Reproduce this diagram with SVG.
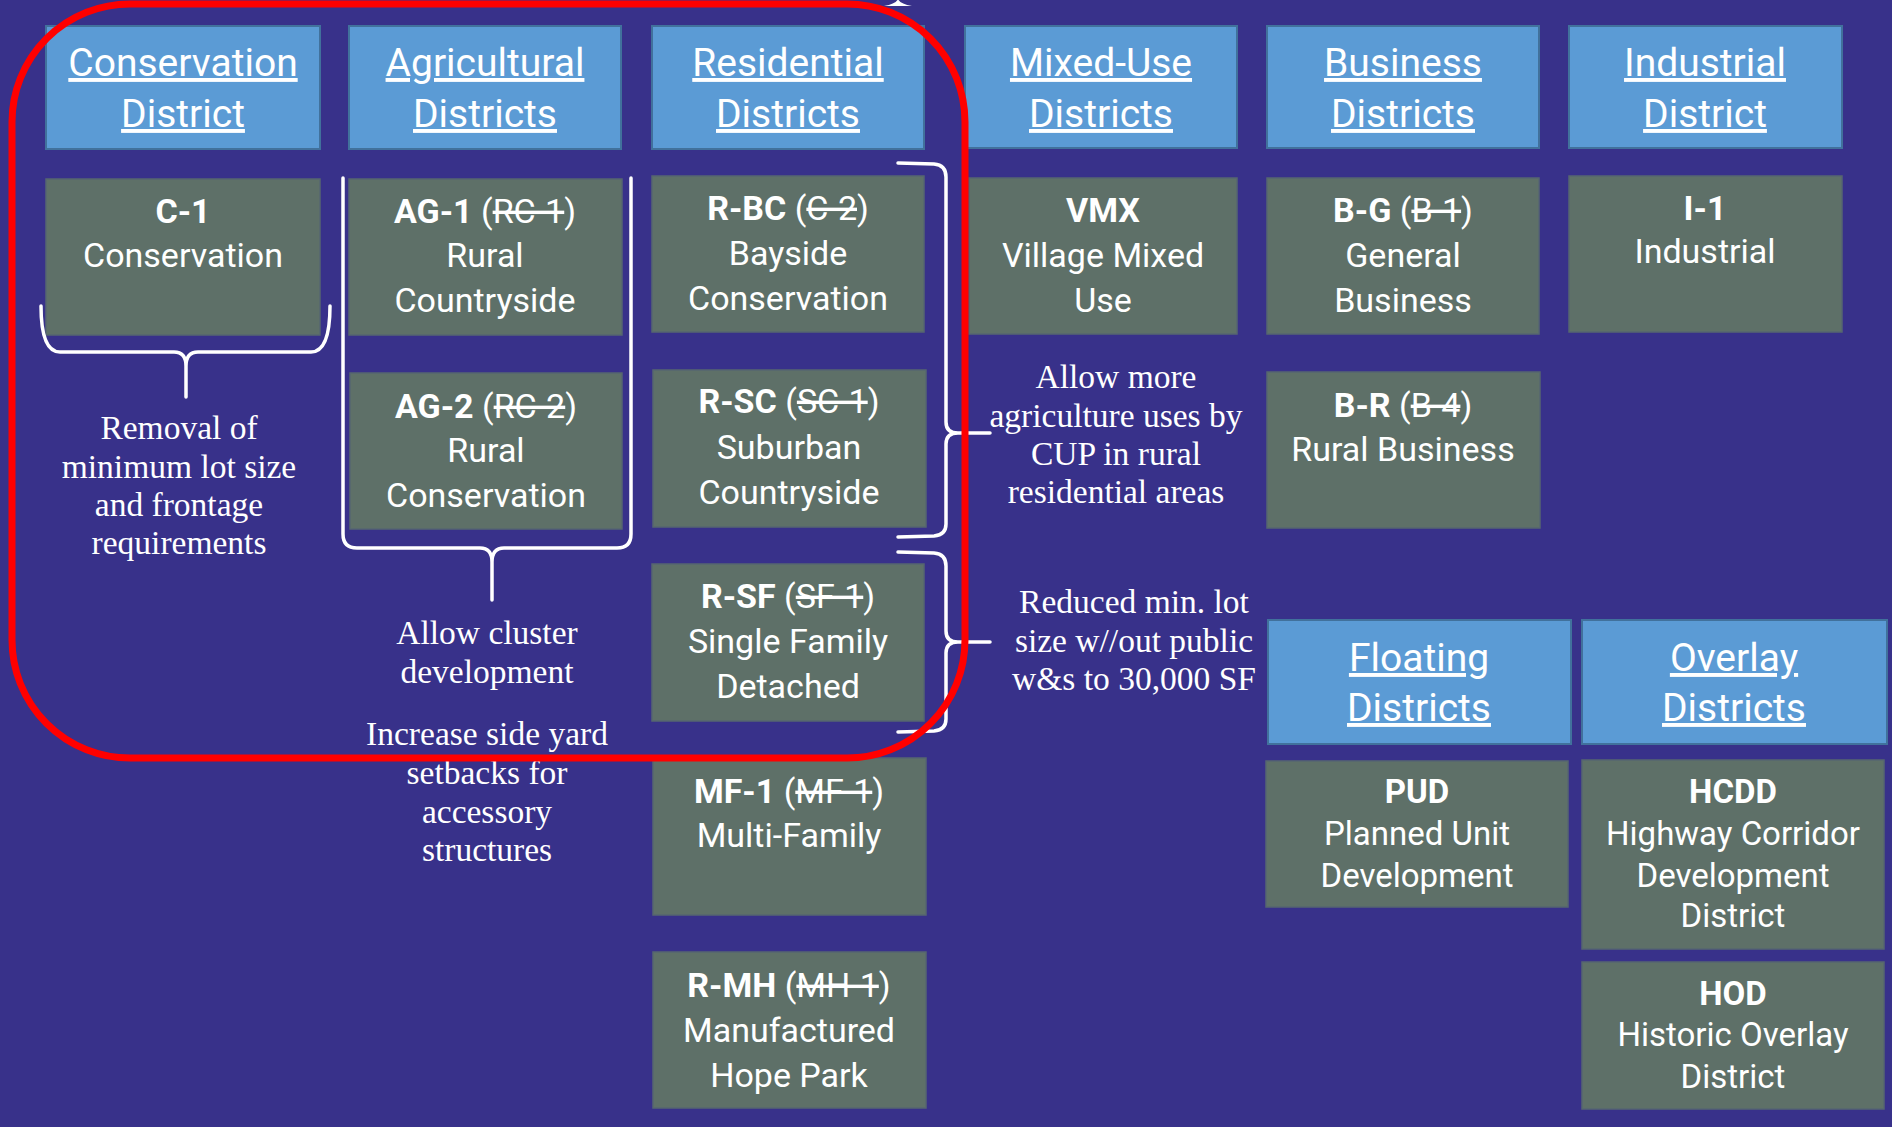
<svg xmlns="http://www.w3.org/2000/svg" width="1892" height="1127" viewBox="0 0 1892 1127">
<style>
.hdr rect{fill:#5B9BD5;stroke:#41719C;stroke-width:2}
.hdr text{font-family:Roboto,"Open Sans",sans-serif;font-size:39px;fill:#fff;text-anchor:middle;text-decoration:underline}
.box rect{fill:#5E7068;stroke:#566670;stroke-width:1.5}
.box text{font-family:Roboto,"Open Sans",sans-serif;font-size:34px;fill:#fff;text-anchor:middle}
.box.sm text{font-size:33px}
.b{font-weight:bold}
.s{text-decoration:line-through}
.note{font-family:"Liberation Serif","Times New Roman",serif;font-size:33.5px;fill:#fff;text-anchor:middle}
.brace{fill:none;stroke:#fff;stroke-width:3.5;stroke-linecap:round;stroke-linejoin:round}
</style>
<rect width="1892" height="1127" fill="#38318A"/>

<g id="hdr-conservation" class="hdr"><rect x="46" y="26" width="274" height="123"/><text x="183" y="76">Conservation</text><text x="183" y="127">District</text></g>
<g id="hdr-agricultural" class="hdr"><rect x="349" y="26" width="272" height="123"/><text x="485" y="76">Agricultural</text><text x="485" y="127">Districts</text></g>
<g id="hdr-residential" class="hdr"><rect x="652" y="26" width="272" height="123"/><text x="788" y="76">Residential</text><text x="788" y="127">Districts</text></g>
<g id="hdr-mixeduse" class="hdr"><rect x="965" y="26" width="272" height="122"/><text x="1101" y="76">Mixed-Use</text><text x="1101" y="127">Districts</text></g>
<g id="hdr-business" class="hdr"><rect x="1267" y="26" width="272" height="122"/><text x="1403" y="76">Business</text><text x="1403" y="127">Districts</text></g>
<g id="hdr-industrial" class="hdr"><rect x="1569" y="26" width="273" height="122"/><text x="1705" y="76">Industrial</text><text x="1705" y="127">District</text></g>
<g id="hdr-floating" class="hdr"><rect x="1268" y="620" width="303" height="124"/><text x="1419" y="671">Floating</text><text x="1419" y="721">Districts</text></g>
<g id="hdr-overlay" class="hdr"><rect x="1582" y="620" width="305" height="124"/><text x="1734" y="671">Overlay</text><text x="1734" y="721">Districts</text></g>

<g id="c1" class="box"><rect x="46" y="179" width="274" height="156"/><text x="183" y="223"><tspan class="b">C-1</tspan></text><text x="183" y="267">Conservation</text></g>
<g id="ag1" class="box"><rect x="349" y="179" width="273" height="156"/><text x="485" y="223"><tspan class="b">AG-1</tspan> (<tspan class="s">RC-1</tspan>)</text><text x="485" y="267">Rural</text><text x="485" y="312">Countryside</text></g>
<g id="ag2" class="box"><rect x="350" y="373" width="272" height="156"/><text x="486" y="418"><tspan class="b">AG-2</tspan> (<tspan class="s">RC-2</tspan>)</text><text x="486" y="462">Rural</text><text x="486" y="507">Conservation</text></g>
<g id="rbc" class="box"><rect x="652" y="176" width="272" height="156"/><text x="788" y="220"><tspan class="b">R-BC</tspan> (<tspan class="s">C-2</tspan>)</text><text x="788" y="265">Bayside</text><text x="788" y="310">Conservation</text></g>
<g id="rsc" class="box"><rect x="653" y="370" width="273" height="157"/><text x="789" y="413"><tspan class="b">R-SC</tspan> (<tspan class="s">SC-1</tspan>)</text><text x="789" y="459">Suburban</text><text x="789" y="504">Countryside</text></g>
<g id="rsf" class="box"><rect x="652" y="564" width="272" height="157"/><text x="788" y="608"><tspan class="b">R-SF</tspan> (<tspan class="s">SF-1</tspan>)</text><text x="788" y="653">Single Family</text><text x="788" y="698">Detached</text></g>
<g id="mf1" class="box"><rect x="653" y="758" width="273" height="157"/><text x="789" y="803"><tspan class="b">MF-1</tspan> (<tspan class="s">MF-1</tspan>)</text><text x="789" y="847">Multi-Family</text></g>
<g id="rmh" class="box"><rect x="653" y="952" width="273" height="156"/><text x="789" y="997"><tspan class="b">R-MH</tspan> (<tspan class="s">MH-1</tspan>)</text><text x="789" y="1042">Manufactured</text><text x="789" y="1087">Hope Park</text></g>
<g id="vmx" class="box"><rect x="969" y="178" width="268" height="156"/><text x="1103" y="222"><tspan class="b">VMX</tspan></text><text x="1103" y="267">Village Mixed</text><text x="1103" y="312">Use</text></g>
<g id="bg" class="box"><rect x="1267" y="178" width="272" height="156"/><text x="1403" y="222"><tspan class="b">B-G</tspan> (<tspan class="s">B-1</tspan>)</text><text x="1403" y="267">General</text><text x="1403" y="312">Business</text></g>
<g id="br" class="box"><rect x="1267" y="372" width="273" height="156"/><text x="1403" y="417"><tspan class="b">B-R</tspan> (<tspan class="s">B-4</tspan>)</text><text x="1403" y="461">Rural Business</text></g>
<g id="i1" class="box"><rect x="1569" y="176" width="273" height="156"/><text x="1705" y="220"><tspan class="b">I-1</tspan></text><text x="1705" y="263">Industrial</text></g>
<g id="pud" class="box sm"><rect x="1266" y="761" width="302" height="146"/><text x="1417" y="803"><tspan class="b">PUD</tspan></text><text x="1417" y="845">Planned Unit</text><text x="1417" y="887">Development</text></g>
<g id="hcdd" class="box sm"><rect x="1582" y="760" width="302" height="189"/><text x="1733" y="803"><tspan class="b">HCDD</tspan></text><text x="1733" y="845">Highway Corridor</text><text x="1733" y="887">Development</text><text x="1733" y="927">District</text></g>
<g id="hod" class="box sm"><rect x="1582" y="962" width="302" height="147"/><text x="1733" y="1005"><tspan class="b">HOD</tspan></text><text x="1733" y="1046">Historic Overlay</text><text x="1733" y="1088">District</text></g>

<g id="notes">
<text class="note" x="179" y="439">Removal of</text>
<text class="note" x="179" y="478">minimum lot size</text>
<text class="note" x="179" y="516">and frontage</text>
<text class="note" x="179" y="554">requirements</text>
<text class="note" x="487" y="644">Allow cluster</text>
<text class="note" x="487" y="683">development</text>
<text class="note" x="487" y="745">Increase side yard</text>
<text class="note" x="487" y="784">setbacks for</text>
<text class="note" x="487" y="823">accessory</text>
<text class="note" x="487" y="861">structures</text>
<text class="note" x="1116" y="388">Allow more</text>
<text class="note" x="1116" y="427">agriculture uses by</text>
<text class="note" x="1116" y="465">CUP in rural</text>
<text class="note" x="1116" y="503">residential areas</text>
<text class="note" x="1134" y="613">Reduced min. lot</text>
<text class="note" x="1134" y="652">size w//out public</text>
<text class="note" x="1134" y="690">w&amp;s to 30,000 SF</text>
</g>

<g id="connectors">
<path class="brace" d="M41,306 Q41,352 60,352 L174,352 Q186,352 186,366 L186,397 M186,366 Q186,352 198,352 L311,352 Q330,352 330,306"/>
<path class="brace" d="M343,178 L343,534 Q343,548 357,548 L480,548 Q492,548 492,562 L492,600 M492,562 Q492,548 504,548 L617,548 Q631,548 631,534 L631,178"/>
<path class="brace" d="M898,163 L934,164 Q946,165 946,177 L946,422 Q946,433 958,433 L990,433 M958,433 Q946,433 946,444 L946,524 Q946,535 934,536 L898,537"/>
<path class="brace" d="M898,552 L934,553 Q946,554 946,566 L946,631 Q946,642 958,642 L990,642 M958,642 Q946,642 946,653 L946,719 Q946,730 934,731 L898,732"/>
<path d="M884,6 Q896,4 898,-1 Q900,4 912,6 Z" fill="#fff"/>
</g>

<rect id="highlight" x="12" y="4" width="953" height="754" rx="118" ry="118" fill="none" stroke="#FF0000" stroke-width="7"/>
</svg>
